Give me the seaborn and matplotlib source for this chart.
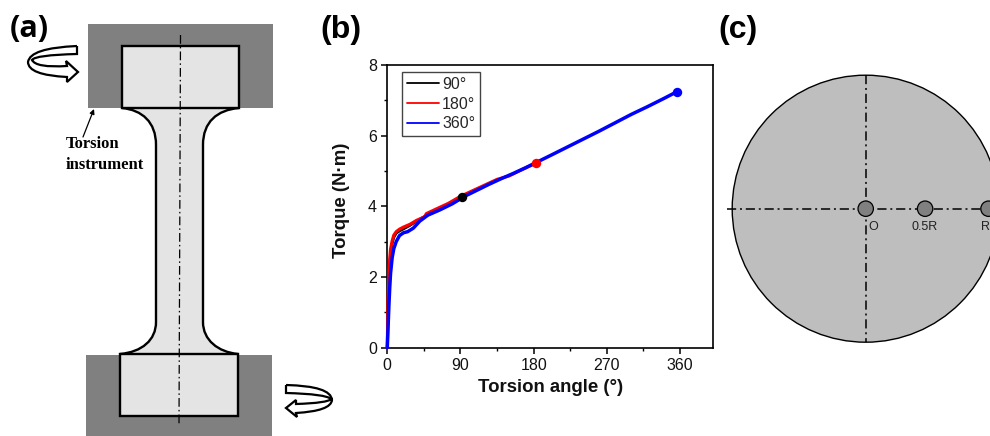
import numpy as np
import pandas as pd
import seaborn as sns
import matplotlib.pyplot as plt
from matplotlib.lines import Line2D
from matplotlib.patches import Circle, PathPatch, Rectangle
from matplotlib.path import Path
from matplotlib.ticker import MultipleLocator

# torque curves
angle_90 = [0, 0.5, 1, 2, 3, 4, 6, 8, 11, 15, 20, 28, 36, 45, 55, 65, 75, 85, 91.5]
torque_90 = [0, 0.6, 1.2, 1.9, 2.35, 2.65, 2.95, 3.12, 3.24, 3.3, 3.36, 3.46, 3.58, 3.7, 3.81, 3.93, 4.04, 4.17, 4.25]
angle_180 = [0, 0.5, 1, 2, 3, 4, 6, 8, 11, 15, 20, 28, 36, 46, 48, 60, 75, 90, 105, 120, 135, 150, 165, 182.8]
torque_180 = [0, 0.7, 1.4, 2.1, 2.5, 2.78, 3.02, 3.18, 3.28, 3.35, 3.41, 3.49, 3.6, 3.7, 3.79, 3.92, 4.08, 4.28, 4.44, 4.6, 4.76, 4.86, 5.03, 5.22]
angle_360 = [0, 1, 2, 3, 4, 6, 8, 11, 15, 20, 25, 32, 40, 50, 65, 80, 95, 110, 125, 140, 155, 170, 185, 200, 220, 240, 260, 280, 300, 320, 340, 356]
torque_360 = [0, 0.6, 1.2, 1.7, 2.1, 2.55, 2.8, 3.0, 3.17, 3.25, 3.28, 3.38, 3.58, 3.75, 3.9, 4.07, 4.28, 4.45, 4.62, 4.78, 4.93, 5.09, 5.26, 5.43, 5.66, 5.89, 6.12, 6.36, 6.6, 6.82, 7.05, 7.24]
labels = ['90°', '180°', '360°']
colors = ['#000000', '#ff0000', '#0000ff']
line_widths = [2.0, 2.3, 2.5]
x_ticks = [0, 90, 180, 270, 360]
y_ticks = [0, 2, 4, 6, 8]

# panel (c) sample points, as a fraction of the radius
point_pos = [0, 0.445, 0.92]
point_names = ['O', '0.5R', 'R']
name_x = [873, 925, 985]

df = pd.concat([
    pd.DataFrame({'angle': angle_90, 'torque': torque_90, 'test': labels[0]}),
    pd.DataFrame({'angle': angle_180, 'torque': torque_180, 'test': labels[1]}),
    pd.DataFrame({'angle': angle_360, 'torque': torque_360, 'test': labels[2]}),
])

sns.set_theme(style='ticks')
plt.rcParams['font.family'] = ['Liberation Sans', 'DejaVu Sans']
W, H = 990, 436
fig = plt.figure(figsize=(W / 100, H / 100), dpi=100, facecolor='white')

# canvas in pixel units for the two schematics
bg = fig.add_axes([0, 0, 1, 1])
bg.set_xlim(0, W)
bg.set_ylim(H, 0)
bg.axis('off')

GREY = '#808080'
LIGHT = '#e4e4e4'
bg.add_patch(Rectangle((88, 24), 185, 84, fc=GREY, ec='none'))
bg.add_patch(Rectangle((86, 355), 185.5, 81, fc=GREY, ec='none'))
M, L, C = Path.MOVETO, Path.LINETO, Path.CURVE4
body = Path(
    [(122, 108), (142, 110), (156, 122), (156, 145), (156, 322), (156, 340), (142, 352), (120, 354),
     (238, 354), (218, 352), (203, 340), (203, 322), (203, 145), (203, 122), (217, 110), (239, 108), (122, 108)],
    [M, C, C, C, L, C, C, C, L, C, C, C, L, C, C, C, L])
bg.add_patch(PathPatch(body, fc=LIGHT, ec='none'))
for seg in [body.vertices[:8], body.vertices[8:16]]:
    bg.add_patch(PathPatch(Path(seg, [M, C, C, C, L, C, C, C]), fc='none', ec='black', lw=1.7))
bg.add_patch(Rectangle((121.5, 46), 117.5, 62, fc=LIGHT, ec='black', lw=1.7))
bg.add_patch(Rectangle((120, 354), 118, 62, fc=LIGHT, ec='black', lw=1.7))
bg.plot([180.5, 179], [35, 424], color='black', lw=0.9, ls=(0, (7, 2.5, 1.2, 2.5)))

Q = Path.CURVE3
arrow_top = Path(
    [(77, 46), (30, 48), (28, 62), (28, 75), (67, 77), (67, 82), (78, 72), (66, 61), (67, 66),
     (36, 68), (32, 60), (35, 55), (77, 54), (77, 46)],
    [M, Q, Q, Q, Q, L, L, L, L, Q, Q, Q, Q, L])
arrow_bot = Path(
    [(286, 385), (331, 386), (332, 400), (331, 411), (296, 413), (297, 417), (286, 408), (296, 400), (296, 404),
     (328, 403), (331, 399), (326, 394), (286, 393), (286, 385)],
    [M, Q, Q, Q, Q, L, L, L, L, Q, Q, Q, Q, L])
for p in [arrow_top, arrow_bot]:
    bg.add_patch(PathPatch(p, fc='white', ec='black', lw=1.6, joinstyle='miter'))

bg.annotate('', xy=(94, 109), xytext=(83, 137),
            arrowprops=dict(arrowstyle='-|>', color='black', lw=0.9, mutation_scale=7, shrinkA=0, shrinkB=0))
bg.text(66, 144, 'Torsion', family=['Liberation Serif'], weight='bold', fontsize=12, ha='left', va='center', color='black')
bg.text(66, 165, 'instrument', family=['Liberation Serif'], weight='bold', fontsize=12, ha='left', va='center', color='black')

# panel (c)
cx, cy, rad = 865.7, 208.7, 133.5
bg.add_patch(Circle((cx, cy), rad, fc='#bebebe', ec='black', lw=1.0))
bg.plot([727, W], [cy, cy], color='black', lw=1.1, ls=(0, (6, 2.5, 1.3, 2.5)))
bg.plot([cx, cx], [cy - rad, cy + rad], color='black', lw=1.1, ls=(0, (6, 2.5, 1.3, 2.5)))
for frac, name, nx in zip(point_pos, point_names, name_x):
    px = cx + frac * rad
    bg.add_patch(Circle((px, cy), 7.7, fc=GREY, ec='black', lw=0.9, zorder=4))
    bg.text(nx, 227, name, fontsize=9, color='#222222', ha='center', va='center')

bg.text(10, 29, '(a)', family=['Open Sans'], weight='bold', fontsize=22, ha='left', va='center', color='black')
bg.text(320, 30, '(b)', weight='bold', fontsize=23, ha='left', va='center', color='black')
bg.text(718, 30, '(c)', weight='bold', fontsize=23, ha='left', va='center', color='black')

# panel (b)
ax = fig.add_axes([387.3 / W, (H - 347.5) / H, (713.3 - 387.3) / W, (347.5 - 65) / H])
ax.patch.set_alpha(0)
for name, col, lw in zip(labels, colors, line_widths):
    sub = df[df['test'] == name]
    sns.lineplot(data=sub, x='angle', y='torque', color=col, lw=lw, estimator=None, sort=False, ax=ax, clip_on=False, zorder=3)
    sns.scatterplot(x=sub['angle'].iloc[-1:], y=sub['torque'].iloc[-1:], color=col, s=46, linewidth=0, ax=ax, zorder=5)

ax.set_xlim(0, 401)
ax.set_ylim(0, 8)
ax.set_xticks(x_ticks)
ax.set_yticks(y_ticks)
ax.xaxis.set_minor_locator(MultipleLocator(45))
ax.yaxis.set_minor_locator(MultipleLocator(1))
ax.tick_params(which='major', length=4.5, width=1.1, labelsize=11.5, pad=3, color='black', labelcolor='#111111')
ax.tick_params(which='minor', length=2.5, width=1.0, color='black')
for s in ax.spines.values():
    s.set_visible(True)
    s.set_linewidth(1.2)
    s.set_color('black')
ax.set_xlabel('Torsion angle (°)', fontsize=13.4, weight='bold', color='#111111')
ax.set_ylabel('Torque (N·m)', fontsize=13.4, weight='bold', color='#111111')
ax.xaxis.set_label_coords(0.5, -0.14, transform=ax.transAxes)
ax.yaxis.set_label_coords(-0.142, 0.52, transform=ax.transAxes)
ax.xaxis.label.set_verticalalignment('center')
ax.yaxis.label.set_verticalalignment('center')

handles = [Line2D([], [], color=c, lw=1.3) for c in colors]
leg = ax.legend(handles, labels, loc='upper left', bbox_to_anchor=(0.046, 0.975), borderaxespad=0,
                fontsize=11.5, fancybox=False, framealpha=1, edgecolor='#444444',
                handlelength=2.0, handletextpad=0.2, labelspacing=0.3, borderpad=0.3)
leg.get_frame().set_linewidth(1.0)

fig.savefig('out.png', dpi=100)
